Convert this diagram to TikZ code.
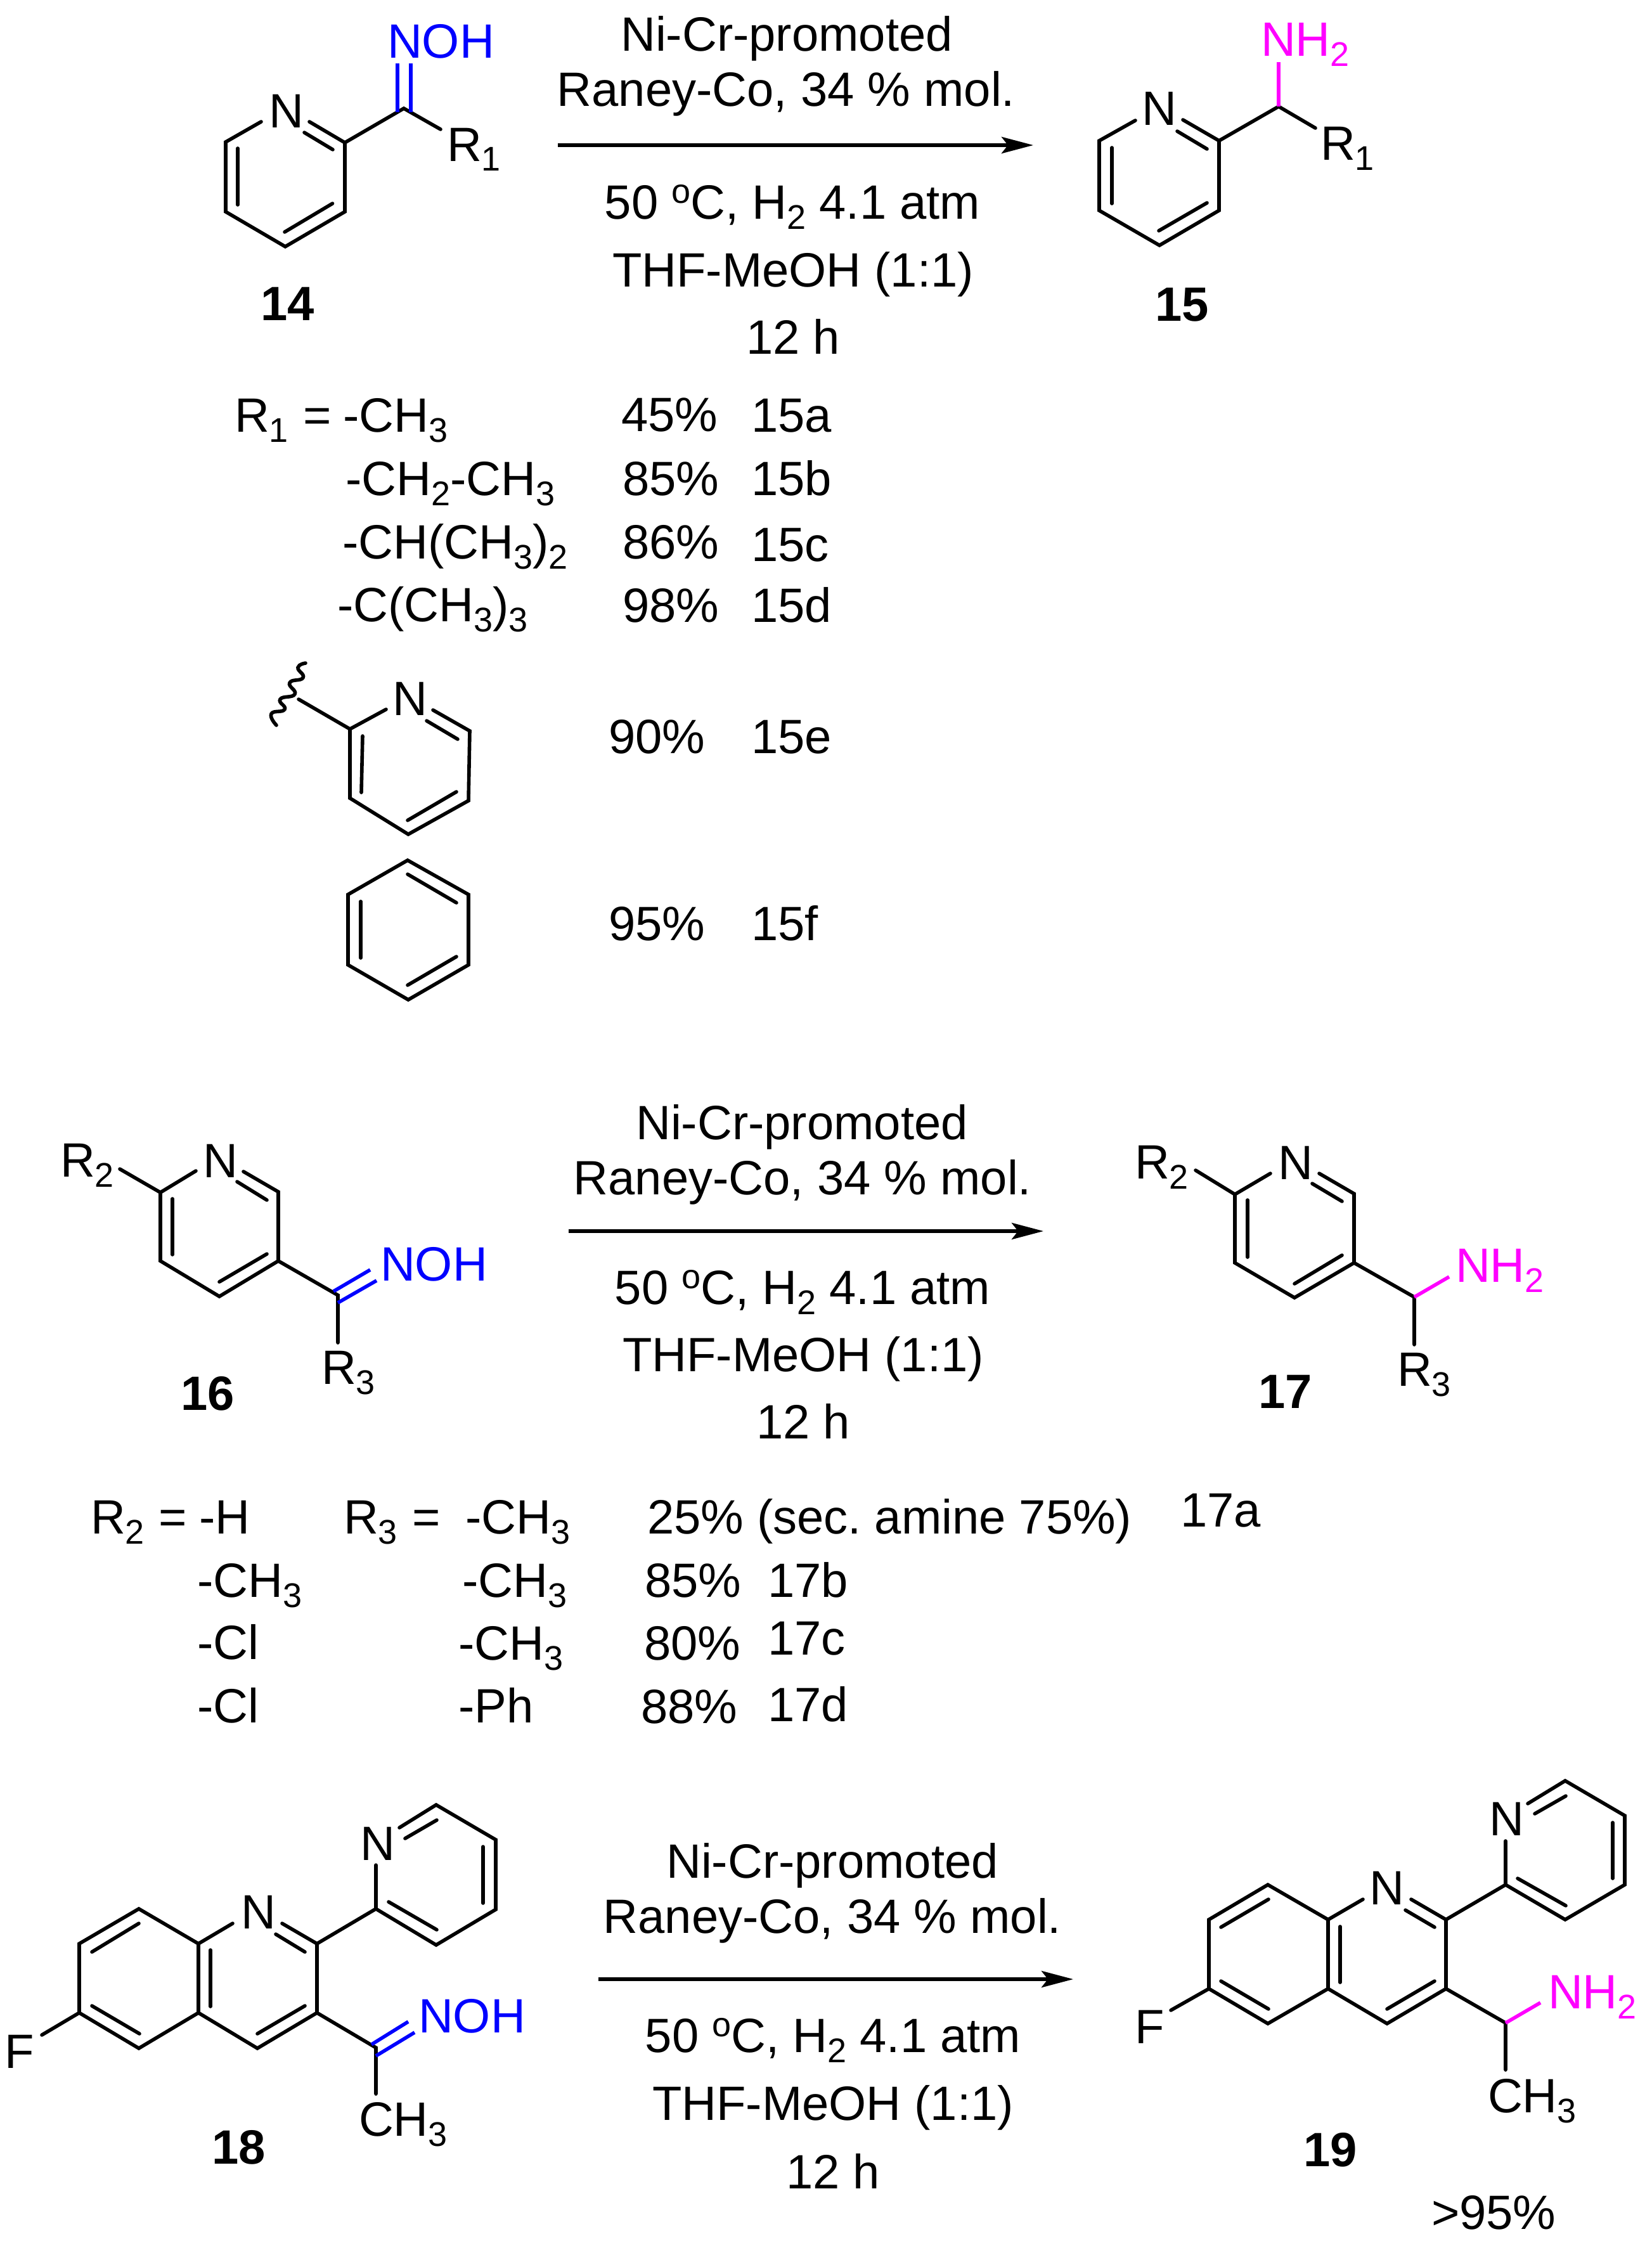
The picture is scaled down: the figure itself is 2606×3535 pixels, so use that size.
\documentclass[tikz,border=0pt]{standalone}
\usepackage{fontspec}
\setmainfont{Liberation Sans}
\usetikzlibrary{arrows.meta}
\definecolor{oximeblue}{RGB}{0,0,255}
\definecolor{amineviolet}{RGB}{255,0,255}
\newcommand{\sbs}[1]{\raisebox{-16pt}{\fontsize{54}{54}\selectfont #1}}
\newcommand{\spo}{\raisebox{25pt}{\fontsize{54}{54}\selectfont o}}
\newcommand{\atom}[3]{\coordinate (#1) at (#2,#3);}
\frenchspacing
\tikzset{
  bond/.style={draw=black,line width=5.6pt,line cap=round,line join=miter},
  oximebond/.style={draw=oximeblue,line width=5.6pt,line cap=butt},
  aminebond/.style={draw=amineviolet,line width=5.6pt,line cap=butt},
  lbl/.style={inner sep=0pt,outer sep=0pt,anchor=base west,font=\fontsize{76}{76}\selectfont},
  cond/.style={inner sep=0pt,outer sep=0pt,anchor=base,font=\fontsize{76}{76}\selectfont},
  numlbl/.style={lbl,font=\fontsize{76}{76}\selectfont\bfseries},
  rxnarrow/.style={draw=black,line width=5.6pt,-{Stealth[length=50pt,width=26pt,inset=10pt]}},
  wavy/.style={bond,smooth,tension=0.9}
}
\begin{document}
\begin{tikzpicture}[x=1pt,y=-1pt]
\path[use as bounding box,fill=white] (0,0) rectangle (2606,3535);

%%% 14
\atom{aA}{412}{192}\atom{aB}{356}{224}\atom{aC}{356}{334}\atom{aD}{450}{389}\atom{aE}{544}{334}\atom{aF}{544}{225}\atom{aG}{488}{192}
\atom{aH}{375}{234}\atom{aI}{375}{323}\atom{aJ}{524.5}{321}\atom{aK}{449}{366}\atom{aL}{480}{209}\atom{aM}{525}{236}
\atom{aX}{637}{171}\atom{aR}{695}{204}\atom{aO1}{627}{100}\atom{aO2}{627}{177}\atom{aO3}{648}{100}\atom{aO4}{648}{177}
\draw[bond] (aA)--(aB)--(aC)--(aD)--(aE)--(aF)--(aG);
\draw[bond] (aH)--(aI); \draw[bond] (aJ)--(aK); \draw[bond] (aL)--(aM);
\draw[bond] (aF)--(aX)--(aR);
\draw[oximebond] (aO1)--(aO2); \draw[oximebond] (aO3)--(aO4);
\node[lbl] (n14N) at (424,201) {N};
\node[lbl,text=oximeblue] (n14O) at (611,92) {NOH};
\node[lbl] (n14R) at (705,254) {R\sbs{1}};
\node[numlbl] (n14) at (411,505) {14};

%%% reaction 1
\coordinate (r1a) at (880,229); \coordinate (r1b) at (1630,229);
\draw[rxnarrow] (r1a)--(r1b);
\node[cond] (r1t1) at (1241,81) {Ni-Cr-promoted};
\node[cond] (r1t2) at (1240,168) {Raney-Co, 34 \% mol.};
\node[cond] (r1t3) at (1250,345) {50 \spo C, H\sbs{2} 4.1 atm};
\node[cond] (r1t4) at (1251,452) {THF-MeOH (1:1)};
\node[cond] (r1t5) at (1251,558) {12 h};

%%% 15
\atom{bA}{1791}{190}\atom{bB}{1734}{222}\atom{bC}{1734}{332}\atom{bD}{1829}{387}\atom{bE}{1923}{332}\atom{bF}{1923}{222}\atom{bG}{1866}{189}
\atom{bH}{1754}{233}\atom{bI}{1754}{321}\atom{bJ}{1904}{320}\atom{bK}{1828}{364}\atom{bL}{1857}{207}\atom{bM}{1904}{235}
\atom{bX}{2017}{168}\atom{bR}{2075}{202}\atom{bN}{2017}{98}
\draw[bond] (bA)--(bB)--(bC)--(bD)--(bE)--(bF)--(bG);
\draw[bond] (bH)--(bI); \draw[bond] (bJ)--(bK); \draw[bond] (bL)--(bM);
\draw[bond] (bF)--(bX)--(bR);
\draw[aminebond] (bX)--(bN);
\node[lbl] (n15N) at (1801,197) {N};
\node[lbl,text=amineviolet] (n15A) at (1989,89) {NH\sbs{2}};
\node[lbl] (n15R) at (2083,252) {R\sbs{1}};
\node[numlbl] (n15) at (1822,506) {15};

%%% table 1
\node[lbl] (t1a) at (370,681) {R\sbs{1}};
\node[lbl] (t1b) at (478,681) {=};
\node[lbl] (t1c) at (541,681) {-CH\sbs{3}};
\node[lbl] (t1d) at (545,781) {-CH\sbs{2}-CH\sbs{3}};
\node[lbl] (t1e) at (540,881) {-CH(CH\sbs{3})\sbs{2}};
\node[lbl] (t1f) at (532,980) {-C(CH\sbs{3})\sbs{3}};
\node[lbl] (y15a) at (980,680) {45\%};
\node[lbl] (y15b) at (982,781) {85\%};
\node[lbl] (y15c) at (982,881) {86\%};
\node[lbl] (y15d) at (982,981) {98\%};
\node[lbl] (y15e) at (960,1188) {90\%};
\node[lbl] (y15f) at (960,1483) {95\%};
\node[lbl] (c15a) at (1185,681) {15a};
\node[lbl] (c15b) at (1185,781) {15b};
\node[lbl] (c15c) at (1185,885) {15c};
\node[lbl] (c15d) at (1185,981) {15d};
\node[lbl] (c15e) at (1185,1188) {15e};
\node[lbl] (c15f) at (1185,1483) {15f};

%%% pyridyl substituent
\atom{pW1}{436}{1144}\atom{pW2}{428}{1126}\atom{pW3}{449}{1119}\atom{pW4}{442}{1103}\atom{pW5}{465}{1095}\atom{pW6}{457}{1077}\atom{pW7}{478}{1069}\atom{pW8}{470}{1053}\atom{pW9}{482}{1046}
\atom{pA}{471}{1103}\atom{pB}{552}{1150}\atom{pC}{552}{1259}\atom{pD}{644}{1316}\atom{pE}{739}{1263}\atom{pF}{741}{1153}\atom{pG}{683}{1120}\atom{pH}{609}{1119}
\atom{pI}{572}{1161}\atom{pJ}{570}{1250}\atom{pK}{643}{1294}\atom{pL}{720}{1249}\atom{pM}{673}{1137}\atom{pN}{722}{1166}
\draw[wavy] plot coordinates {(pW1) (pW2) (pW3) (pW4) (pW5) (pW6) (pW7) (pW8) (pW9)};
\draw[bond] (pA)--(pB)--(pH);
\draw[bond] (pB)--(pC)--(pD)--(pE)--(pF)--(pG);
\draw[bond] (pI)--(pJ); \draw[bond] (pK)--(pL); \draw[bond] (pM)--(pN);
\node[lbl] (npN) at (619,1128) {N};

%%% phenyl
\atom{hA}{643}{1357}\atom{hB}{739}{1411}\atom{hC}{739}{1522}\atom{hD}{644}{1577}\atom{hE}{549}{1522}\atom{hF}{549}{1411}
\atom{hG}{643}{1379}\atom{hH}{720}{1424}\atom{hI}{569}{1422}\atom{hJ}{569}{1511}\atom{hK}{643}{1554}\atom{hL}{720}{1509}
\draw[bond] (hA)--(hB)--(hC)--(hD)--(hE)--(hF)--cycle;
\draw[bond] (hG)--(hH); \draw[bond] (hI)--(hJ); \draw[bond] (hK)--(hL);

%%% 16
\atom{cR}{189}{1844}\atom{cA}{253}{1881}\atom{cB}{253}{1989}\atom{cC}{346}{2045}\atom{cD}{439}{1989}\atom{cE}{439}{1880}\atom{cF}{384}{1848}\atom{cG}{309}{1847}
\atom{cH}{272}{1891}\atom{cI}{272}{1979}\atom{cJ}{421}{1978}\atom{cK}{346}{2022}\atom{cL}{374}{1864}\atom{cM}{421}{1893}
\atom{cX}{533}{2043}\atom{cY}{533}{2118}\atom{cO1}{526}{2037}\atom{cO2}{584}{2003}\atom{cO3}{533}{2055}\atom{cO4}{594}{2020}
\draw[bond] (cG)--(cA)--(cB)--(cC)--(cD)--(cE)--(cF);
\draw[bond] (cR)--(cA); \draw[bond] (cH)--(cI); \draw[bond] (cJ)--(cK); \draw[bond] (cL)--(cM);
\draw[bond] (cD)--(cX)--(cY);
\draw[oximebond] (cO1)--(cO2); \draw[oximebond] (cO3)--(cO4);
\node[lbl] (n16N) at (320,1857) {N};
\node[lbl] (n16R2) at (95,1856) {R\sbs{2}};
\node[lbl,text=oximeblue] (n16O) at (600,2020) {NOH};
\node[lbl] (n16R3) at (507,2183) {R\sbs{3}};
\node[numlbl] (n16) at (285,2224) {16};

%%% reaction 2
\coordinate (r2a) at (897,1942); \coordinate (r2b) at (1646,1942);
\draw[rxnarrow] (r2a)--(r2b);
\node[cond] (r2t1) at (1265,1797) {Ni-Cr-promoted};
\node[cond] (r2t2) at (1266,1884) {Raney-Co, 34 \% mol.};
\node[cond] (r2t3) at (1266,2057) {50 \spo C, H\sbs{2} 4.1 atm};
\node[cond] (r2t4) at (1267,2163) {THF-MeOH (1:1)};
\node[cond] (r2t5) at (1267,2269) {12 h};

%%% 17
\atom{dR}{1886}{1846}\atom{dA}{1948}{1884}\atom{dB}{1948}{1992}\atom{dC}{2042}{2047}\atom{dD}{2136}{1992}\atom{dE}{2136}{1883}\atom{dF}{2081}{1851}\atom{dG}{2004}{1851}
\atom{dH}{1968}{1893}\atom{dI}{1968}{1983}\atom{dJ}{2117}{1980}\atom{dK}{2042}{2025}\atom{dL}{2070}{1867}\atom{dM}{2117}{1895}
\atom{dX}{2231}{2046}\atom{dY}{2231}{2121}\atom{dN}{2286}{2014}
\draw[bond] (dG)--(dA)--(dB)--(dC)--(dD)--(dE)--(dF);
\draw[bond] (dR)--(dA); \draw[bond] (dH)--(dI); \draw[bond] (dJ)--(dK); \draw[bond] (dL)--(dM);
\draw[bond] (dD)--(dX)--(dY);
\draw[aminebond] (dX)--(dN);
\node[lbl] (n17N) at (2016,1860) {N};
\node[lbl] (n17R2) at (1790,1859) {R\sbs{2}};
\node[lbl,text=amineviolet] (n17A) at (2296,2022) {NH\sbs{2}};
\node[lbl] (n17R3) at (2204,2186) {R\sbs{3}};
\node[numlbl] (n17) at (1985,2221) {17};

%%% table 2
\node[lbl] (t2a) at (143,2419) {R\sbs{2}};
\node[lbl] (t2b) at (250,2419) {=};
\node[lbl] (t2c) at (314,2419) {-H};
\node[lbl] (t2d) at (542,2419) {R\sbs{3}};
\node[lbl] (t2e) at (650,2419) {=};
\node[lbl] (t2f) at (734,2419) {-CH\sbs{3}};
\node[lbl] (t2g) at (311,2519) {-CH\sbs{3}};
\node[lbl] (t2h) at (311,2617) {-Cl};
\node[lbl] (t2i) at (311,2717) {-Cl};
\node[lbl] (t2j) at (729,2519) {-CH\sbs{3}};
\node[lbl] (t2k) at (723,2618) {-CH\sbs{3}};
\node[lbl] (t2l) at (723,2717) {-Ph};
\node[lbl] (y17a) at (1021,2419) {25\%};
\node[lbl] (y17a2) at (1194,2419) {(sec. amine 75\%)};
\node[lbl] (y17b) at (1017,2519) {85\%};
\node[lbl] (y17c) at (1016,2618) {80\%};
\node[lbl] (y17d) at (1011,2718) {88\%};
\node[lbl] (c17a) at (1862,2408) {17a};
\node[lbl] (c17b) at (1211,2519) {17b};
\node[lbl] (c17c) at (1211,2610) {17c};
\node[lbl] (c17d) at (1211,2715) {17d};

%%% 18
\atom{ea}{219}{3011}\atom{eb}{125}{3066}\atom{ec}{125}{3175}\atom{ed}{219}{3231}\atom{ee}{313}{3175}\atom{ef}{313}{3066}
\atom{eNl}{367}{3034}\atom{eNr}{445}{3034}\atom{eg}{500}{3066}\atom{eh}{500}{3175}\atom{ei}{406}{3231}
\atom{ej}{593}{3011}\atom{ek}{688}{3068}\atom{el}{782}{3012}\atom{em}{782}{2902}\atom{en}{688}{2847}\atom{epb}{630}{2883}\atom{ept}{593}{2942}
\atom{eF}{66}{3210}\atom{eX}{593}{3230}\atom{eY}{593}{3303}
\atom{e1}{219}{3034}\atom{e2}{145}{3079}\atom{e3}{145}{3164}\atom{e4}{220}{3208}\atom{e5}{332}{3076}\atom{e6}{332}{3165}\atom{e7}{435}{3051}\atom{e8}{481}{3079}\atom{e9}{481}{3164}\atom{e10}{406}{3208}
\atom{e11}{639}{2900}\atom{e12}{689}{2871}\atom{e13}{762}{2913}\atom{e14}{762}{3002}\atom{e15}{613}{3000}\atom{e16}{689}{3044}
\atom{eO1}{586}{3225}\atom{eO2}{644}{3189}\atom{eO3}{593}{3243}\atom{eO4}{654}{3206}
\draw[bond] (ef)--(ea)--(eb)--(ec)--(ed)--(ee)--cycle;
\draw[bond] (eNl)--(ef); \draw[bond] (ee)--(ei)--(eh)--(eg)--(eNr);
\draw[bond] (eg)--(ej)--(ek)--(el)--(em)--(en)--(epb); \draw[bond] (ej)--(ept);
\draw[bond] (e1)--(e2); \draw[bond] (e3)--(e4); \draw[bond] (e5)--(e6); \draw[bond] (e7)--(e8); \draw[bond] (e9)--(e10);
\draw[bond] (e11)--(e12); \draw[bond] (e13)--(e14); \draw[bond] (e15)--(e16);
\draw[bond] (ec)--(eF); \draw[bond] (eh)--(eX)--(eY);
\draw[oximebond] (eO1)--(eO2); \draw[oximebond] (eO3)--(eO4);
\node[lbl] (n18N1) at (380,3042) {N};
\node[lbl] (n18N2) at (568,2934) {N};
\node[lbl] (n18F) at (8,3262) {F};
\node[lbl,text=oximeblue] (n18O) at (660,3206) {NOH};
\node[lbl] (n18C) at (566,3369) {CH\sbs{3}};
\node[numlbl] (n18) at (334,3413) {18};

%%% reaction 3
\coordinate (r3a) at (944,3122); \coordinate (r3b) at (1693,3122);
\draw[rxnarrow] (r3a)--(r3b);
\node[cond] (r3t1) at (1313,2962) {Ni-Cr-promoted};
\node[cond] (r3t2) at (1313,3049) {Raney-Co, 34 \% mol.};
\node[cond] (r3t3) at (1314,3237) {50 \spo C, H\sbs{2} 4.1 atm};
\node[cond] (r3t4) at (1314,3344) {THF-MeOH (1:1)};
\node[cond] (r3t5) at (1314,3452) {12 h};

%%% 19
\atom{fa}{2000}{2973}\atom{fb}{1907}{3028}\atom{fc}{1907}{3137}\atom{fd}{2000}{3192}\atom{fe}{2095}{3137}\atom{ff}{2095}{3028}
\atom{fNl}{2150}{2996}\atom{fNr}{2226}{2996}\atom{fg}{2281}{3028}\atom{fh}{2281}{3137}\atom{fi}{2188}{3192}
\atom{fj}{2375}{2973}\atom{fk}{2469}{3028}\atom{fl}{2563}{2973}\atom{fm}{2563}{2864}\atom{fn}{2469}{2809}\atom{fpb}{2410}{2845}\atom{fpt}{2375}{2904}
\atom{fF}{1847}{3171}\atom{fX}{2375}{3191}\atom{fY}{2375}{3265}\atom{fZ}{2430}{3159}
\atom{f1}{2001}{2996}\atom{f2}{1926}{3040}\atom{f3}{1926}{3125}\atom{f4}{2001}{3169}\atom{f5}{2114}{3039}\atom{f6}{2114}{3127}\atom{f7}{2217}{3013}\atom{f8}{2263}{3040}\atom{f9}{2263}{3125}\atom{f10}{2188}{3169}
\atom{f11}{2421}{2861}\atom{f12}{2470}{2833}\atom{f13}{2544}{2875}\atom{f14}{2544}{2963}\atom{f15}{2394}{2963}\atom{f16}{2470}{3006}
\draw[bond] (ff)--(fa)--(fb)--(fc)--(fd)--(fe)--cycle;
\draw[bond] (fNl)--(ff); \draw[bond] (fe)--(fi)--(fh)--(fg)--(fNr);
\draw[bond] (fg)--(fj)--(fk)--(fl)--(fm)--(fn)--(fpb); \draw[bond] (fj)--(fpt);
\draw[bond] (f1)--(f2); \draw[bond] (f3)--(f4); \draw[bond] (f5)--(f6); \draw[bond] (f7)--(f8); \draw[bond] (f9)--(f10);
\draw[bond] (f11)--(f12); \draw[bond] (f13)--(f14); \draw[bond] (f15)--(f16);
\draw[bond] (fc)--(fF); \draw[bond] (fh)--(fX)--(fY);
\draw[aminebond] (fX)--(fZ);
\node[lbl] (n19N1) at (2160,3004) {N};
\node[lbl] (n19N2) at (2349,2895) {N};
\node[lbl] (n19F) at (1790,3223) {F};
\node[lbl,text=amineviolet] (n19A) at (2442,3168) {NH\sbs{2}};
\node[lbl] (n19C) at (2347,3332) {CH\sbs{3}};
\node[numlbl] (n19) at (2056,3417) {19};
\node[lbl] (y19) at (2258,3516) {>95\%};
\end{tikzpicture}
\end{document}
